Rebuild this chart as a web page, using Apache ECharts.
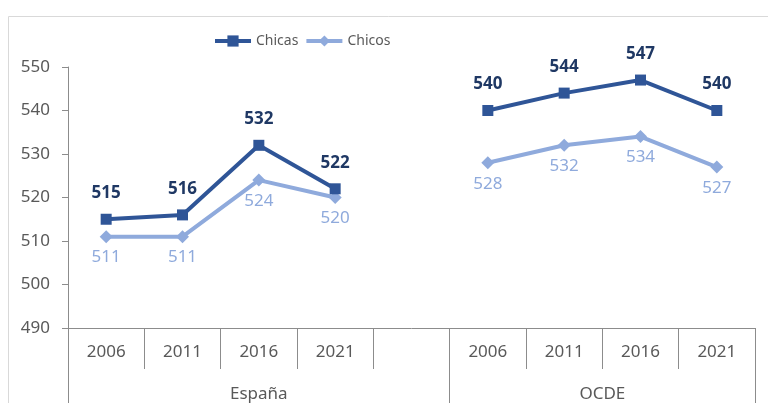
<!DOCTYPE html>
<html lang="es">
<head>
    <meta charset="UTF-8">
    <title>Chicas y Chicos</title>
    <script src="https://cdn.jsdelivr.net/npm/echarts@6/dist/echarts.min.js"></script>
<style>
    html,body{margin:0;padding:0;background:#fff;}
    #grafico{width:768px;height:403px;}
</style>
</head>
<body>
<div id="grafico"></div>
<script>
    // categorias: 4 años España, hueco, 4 años OCDE
    var anios = ['2006', '2011', '2016', '2021', '', '2006', '2011', '2016', '2021'];
    var grupos = ['España', 'OCDE'];
    var posGrupos = [2.5, 7];      // centro de cada grupo en unidades de categoria
    var limitesGrupos = [0, 5, 9];
    var chicas = [515, 516, 532, 522, null, 540, 544, 547, 540];
    var chicos = [511, 511, 524, 520, null, 528, 532, 534, 527];
    var ejeY = {min: 490, max: 550, interval: 10};

    var fuente = 'Noto Sans';
    var gris = '#8c8c8c';
    var texto = '#595959';

    var grafico = echarts.init(document.getElementById('grafico'));
    var option = {
        animation: false,
        textStyle: {fontFamily: fuente},
        graphic: [{
            type: 'rect',
            left: 6, top: 14,
            shape: {width: 800, height: 420},
            style: {fill: 'none', stroke: '#d9d9d9', lineWidth: 1},
            z: -1
        }],
        legend: {
            left: 208,
            top: 29,
            itemWidth: 36,
            itemHeight: 14,
            itemGap: 6,
            lineStyle: {width: 4},
            textStyle: {color: texto, fontSize: 14, fontFamily: fuente},
            data: ['Chicas', 'Chicos']
        },
        grid: {left: 68, right: 13, top: 67, bottom: 72, containLabel: false},
        xAxis: [
            {
                type: 'category',
                data: anios,
                boundaryGap: true,
                axisLine: {show: true, lineStyle: {color: gris, width: 1}},
                axisTick: {show: true, interval: 0, length: 41, lineStyle: {color: gris}},
                axisLabel: {interval: 0, color: texto, fontSize: 17, margin: 16}
            },
            {
                type: 'value',
                position: 'bottom',
                min: 0,
                max: 9,
                axisLine: {show: false},
                splitLine: {show: false},
                axisTick: {show: true, customValues: limitesGrupos, length: 80, lineStyle: {color: gris}},
                axisLabel: {
                    customValues: posGrupos,
                    color: texto,
                    fontSize: 17,
                    margin: 58,
                    formatter: function (v) {
                        return grupos[posGrupos.indexOf(v)];
                    }
                }
            }
        ],
        yAxis: {
            type: 'value',
            min: ejeY.min,
            max: ejeY.max,
            interval: ejeY.interval,
            axisLine: {show: true, lineStyle: {color: gris}},
            axisTick: {show: true, length: 6, lineStyle: {color: gris}},
            splitLine: {show: false},
            axisLabel: {color: texto, fontSize: 17, margin: 18}
        },
        series: [
            {
                name: 'Chicas',
                type: 'line',
                data: chicas,
                connectNulls: false,
                symbol: 'rect',
                symbolSize: 11,
                lineStyle: {color: '#2f5597', width: 4},
                itemStyle: {color: '#2f5597'},
                label: {
                    show: true,
                    position: 'top',
                    distance: 12,
                    color: '#1f3864',
                    fontWeight: 'bold',
                    fontSize: 17
                },
                z: 3
            },
            {
                name: 'Chicos',
                type: 'line',
                data: chicos,
                connectNulls: false,
                symbol: 'diamond',
                symbolSize: 13,
                lineStyle: {color: '#8faadc', width: 4},
                itemStyle: {color: '#8faadc'},
                label: {
                    show: true,
                    position: 'bottom',
                    distance: 6,
                    color: '#8faadc',
                    fontSize: 17
                },
                z: 2
            }
        ]
    };
    grafico.setOption(option);
</script>
</body>
</html>
